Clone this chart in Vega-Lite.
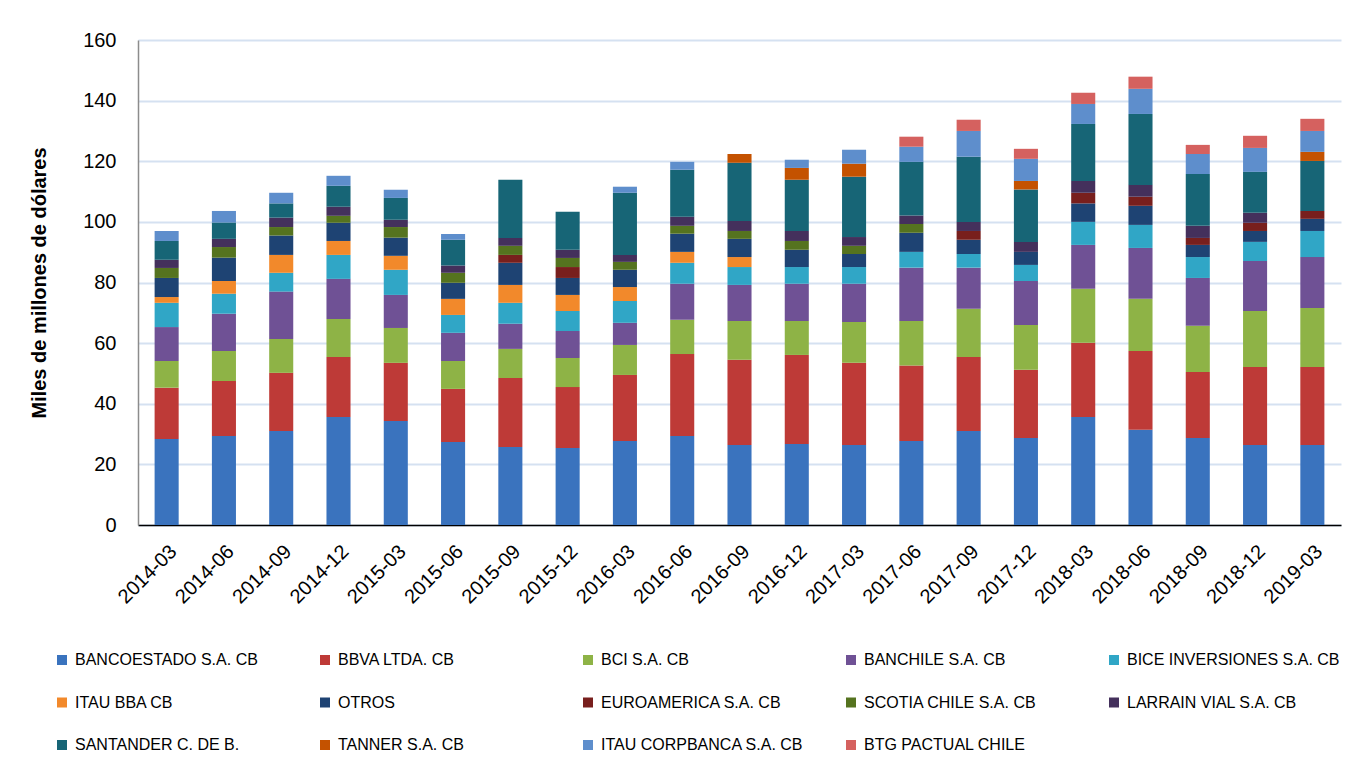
{
"$schema": "https://vega.github.io/schema/vega-lite/v6.json",
"width": 1203, "height": 485,
"autosize": {"type": "none"},
"padding": {"left": 138, "top": 40, "right": 17, "bottom": 235},
"background": "white",
"data": {"values": [
{"fecha":"2014-03","entidad":"BANCOESTADO S.A. CB","valor":28.4},{"fecha":"2014-03","entidad":"BBVA  LTDA. CB","valor":16.9},{"fecha":"2014-03","entidad":"BCI S.A. CB","valor":8.8},{"fecha":"2014-03","entidad":"BANCHILE S.A. CB","valor":11.2},{"fecha":"2014-03","entidad":"BICE INVERSIONES S.A. CB","valor":8.0},{"fecha":"2014-03","entidad":"ITAU BBA CB","valor":1.9},{"fecha":"2014-03","entidad":"OTROS","valor":6.3},{"fecha":"2014-03","entidad":"SCOTIA CHILE S.A. CB","valor":3.3},{"fecha":"2014-03","entidad":"LARRAIN VIAL S.A. CB","valor":2.7},{"fecha":"2014-03","entidad":"SANTANDER C. DE B.","valor":6.2},{"fecha":"2014-03","entidad":"ITAU CORPBANCA S.A. CB","valor":3.3},
{"fecha":"2014-06","entidad":"BANCOESTADO S.A. CB","valor":29.4},{"fecha":"2014-06","entidad":"BBVA  LTDA. CB","valor":18.1},{"fecha":"2014-06","entidad":"BCI S.A. CB","valor":9.9},{"fecha":"2014-06","entidad":"BANCHILE S.A. CB","valor":12.3},{"fecha":"2014-06","entidad":"BICE INVERSIONES S.A. CB","valor":6.6},{"fecha":"2014-06","entidad":"ITAU BBA CB","valor":4.2},{"fecha":"2014-06","entidad":"OTROS","valor":7.7},{"fecha":"2014-06","entidad":"SCOTIA CHILE S.A. CB","valor":3.5},{"fecha":"2014-06","entidad":"LARRAIN VIAL S.A. CB","valor":2.7},{"fecha":"2014-06","entidad":"SANTANDER C. DE B.","valor":5.4},{"fecha":"2014-06","entidad":"ITAU CORPBANCA S.A. CB","valor":3.8},
{"fecha":"2014-09","entidad":"BANCOESTADO S.A. CB","valor":31.0},{"fecha":"2014-09","entidad":"BBVA  LTDA. CB","valor":19.2},{"fecha":"2014-09","entidad":"BCI S.A. CB","valor":11.2},{"fecha":"2014-09","entidad":"BANCHILE S.A. CB","valor":15.6},{"fecha":"2014-09","entidad":"BICE INVERSIONES S.A. CB","valor":6.2},{"fecha":"2014-09","entidad":"ITAU BBA CB","valor":5.9},{"fecha":"2014-09","entidad":"OTROS","valor":6.4},{"fecha":"2014-09","entidad":"SCOTIA CHILE S.A. CB","valor":2.8},{"fecha":"2014-09","entidad":"LARRAIN VIAL S.A. CB","valor":3.1},{"fecha":"2014-09","entidad":"SANTANDER C. DE B.","valor":4.7},{"fecha":"2014-09","entidad":"ITAU CORPBANCA S.A. CB","valor":3.5},
{"fecha":"2014-12","entidad":"BANCOESTADO S.A. CB","valor":35.6},{"fecha":"2014-12","entidad":"BBVA  LTDA. CB","valor":19.8},{"fecha":"2014-12","entidad":"BCI S.A. CB","valor":12.6},{"fecha":"2014-12","entidad":"BANCHILE S.A. CB","valor":13.2},{"fecha":"2014-12","entidad":"BICE INVERSIONES S.A. CB","valor":7.9},{"fecha":"2014-12","entidad":"ITAU BBA CB","valor":4.6},{"fecha":"2014-12","entidad":"OTROS","valor":6.0},{"fecha":"2014-12","entidad":"SCOTIA CHILE S.A. CB","valor":2.3},{"fecha":"2014-12","entidad":"LARRAIN VIAL S.A. CB","valor":3.0},{"fecha":"2014-12","entidad":"SANTANDER C. DE B.","valor":6.9},{"fecha":"2014-12","entidad":"ITAU CORPBANCA S.A. CB","valor":3.3},
{"fecha":"2015-03","entidad":"BANCOESTADO S.A. CB","valor":34.3},{"fecha":"2015-03","entidad":"BBVA  LTDA. CB","valor":19.2},{"fecha":"2015-03","entidad":"BCI S.A. CB","valor":11.5},{"fecha":"2015-03","entidad":"BANCHILE S.A. CB","valor":10.9},{"fecha":"2015-03","entidad":"BICE INVERSIONES S.A. CB","valor":8.3},{"fecha":"2015-03","entidad":"ITAU BBA CB","valor":4.6},{"fecha":"2015-03","entidad":"OTROS","valor":6.0},{"fecha":"2015-03","entidad":"SCOTIA CHILE S.A. CB","valor":3.5},{"fecha":"2015-03","entidad":"LARRAIN VIAL S.A. CB","valor":2.4},{"fecha":"2015-03","entidad":"SANTANDER C. DE B.","valor":7.2},{"fecha":"2015-03","entidad":"ITAU CORPBANCA S.A. CB","valor":2.7},
{"fecha":"2015-06","entidad":"BANCOESTADO S.A. CB","valor":27.4},{"fecha":"2015-06","entidad":"BBVA  LTDA. CB","valor":17.5},{"fecha":"2015-06","entidad":"BCI S.A. CB","valor":9.2},{"fecha":"2015-06","entidad":"BANCHILE S.A. CB","valor":9.3},{"fecha":"2015-06","entidad":"BICE INVERSIONES S.A. CB","valor":5.9},{"fecha":"2015-06","entidad":"ITAU BBA CB","valor":5.3},{"fecha":"2015-06","entidad":"OTROS","valor":5.3},{"fecha":"2015-06","entidad":"SCOTIA CHILE S.A. CB","valor":3.3},{"fecha":"2015-06","entidad":"LARRAIN VIAL S.A. CB","valor":2.4},{"fecha":"2015-06","entidad":"SANTANDER C. DE B.","valor":8.5},{"fecha":"2015-06","entidad":"ITAU CORPBANCA S.A. CB","valor":1.9},
{"fecha":"2015-09","entidad":"BANCOESTADO S.A. CB","valor":25.7},{"fecha":"2015-09","entidad":"BBVA  LTDA. CB","valor":22.8},{"fecha":"2015-09","entidad":"BCI S.A. CB","valor":9.6},{"fecha":"2015-09","entidad":"BANCHILE S.A. CB","valor":8.3},{"fecha":"2015-09","entidad":"BICE INVERSIONES S.A. CB","valor":6.9},{"fecha":"2015-09","entidad":"ITAU BBA CB","valor":5.9},{"fecha":"2015-09","entidad":"OTROS","valor":7.3},{"fecha":"2015-09","entidad":"EUROAMERICA S.A. CB","valor":2.6},{"fecha":"2015-09","entidad":"SCOTIA CHILE S.A. CB","valor":3.0},{"fecha":"2015-09","entidad":"LARRAIN VIAL S.A. CB","valor":2.6},{"fecha":"2015-09","entidad":"SANTANDER C. DE B.","valor":19.2},
{"fecha":"2015-12","entidad":"BANCOESTADO S.A. CB","valor":25.4},{"fecha":"2015-12","entidad":"BBVA  LTDA. CB","valor":20.1},{"fecha":"2015-12","entidad":"BCI S.A. CB","valor":9.6},{"fecha":"2015-12","entidad":"BANCHILE S.A. CB","valor":8.9},{"fecha":"2015-12","entidad":"BICE INVERSIONES S.A. CB","valor":6.6},{"fecha":"2015-12","entidad":"ITAU BBA CB","valor":5.3},{"fecha":"2015-12","entidad":"OTROS","valor":5.6},{"fecha":"2015-12","entidad":"EUROAMERICA S.A. CB","valor":3.6},{"fecha":"2015-12","entidad":"SCOTIA CHILE S.A. CB","valor":3.0},{"fecha":"2015-12","entidad":"LARRAIN VIAL S.A. CB","valor":2.7},{"fecha":"2015-12","entidad":"SANTANDER C. DE B.","valor":12.5},
{"fecha":"2016-03","entidad":"BANCOESTADO S.A. CB","valor":27.7},{"fecha":"2016-03","entidad":"BBVA  LTDA. CB","valor":21.8},{"fecha":"2016-03","entidad":"BCI S.A. CB","valor":9.9},{"fecha":"2016-03","entidad":"BANCHILE S.A. CB","valor":7.3},{"fecha":"2016-03","entidad":"BICE INVERSIONES S.A. CB","valor":7.2},{"fecha":"2016-03","entidad":"ITAU BBA CB","valor":4.6},{"fecha":"2016-03","entidad":"OTROS","valor":5.7},{"fecha":"2016-03","entidad":"SCOTIA CHILE S.A. CB","valor":2.6},{"fecha":"2016-03","entidad":"LARRAIN VIAL S.A. CB","valor":2.3},{"fecha":"2016-03","entidad":"SANTANDER C. DE B.","valor":20.5},{"fecha":"2016-03","entidad":"ITAU CORPBANCA S.A. CB","valor":2.0},
{"fecha":"2016-06","entidad":"BANCOESTADO S.A. CB","valor":29.4},{"fecha":"2016-06","entidad":"BBVA  LTDA. CB","valor":27.0},{"fecha":"2016-06","entidad":"BCI S.A. CB","valor":11.3},{"fecha":"2016-06","entidad":"BANCHILE S.A. CB","valor":11.9},{"fecha":"2016-06","entidad":"BICE INVERSIONES S.A. CB","valor":6.9},{"fecha":"2016-06","entidad":"ITAU BBA CB","valor":3.6},{"fecha":"2016-06","entidad":"OTROS","valor":6.0},{"fecha":"2016-06","entidad":"SCOTIA CHILE S.A. CB","valor":2.6},{"fecha":"2016-06","entidad":"LARRAIN VIAL S.A. CB","valor":3.0},{"fecha":"2016-06","entidad":"SANTANDER C. DE B.","valor":15.5},{"fecha":"2016-06","entidad":"ITAU CORPBANCA S.A. CB","valor":2.6},
{"fecha":"2016-09","entidad":"BANCOESTADO S.A. CB","valor":26.4},{"fecha":"2016-09","entidad":"BBVA  LTDA. CB","valor":28.1},{"fecha":"2016-09","entidad":"BCI S.A. CB","valor":12.8},{"fecha":"2016-09","entidad":"BANCHILE S.A. CB","valor":11.9},{"fecha":"2016-09","entidad":"BICE INVERSIONES S.A. CB","valor":5.9},{"fecha":"2016-09","entidad":"ITAU BBA CB","valor":3.3},{"fecha":"2016-09","entidad":"OTROS","valor":6.0},{"fecha":"2016-09","entidad":"SCOTIA CHILE S.A. CB","valor":2.6},{"fecha":"2016-09","entidad":"LARRAIN VIAL S.A. CB","valor":3.3},{"fecha":"2016-09","entidad":"SANTANDER C. DE B.","valor":19.2},{"fecha":"2016-09","entidad":"TANNER S.A. CB","valor":2.9},
{"fecha":"2016-12","entidad":"BANCOESTADO S.A. CB","valor":26.7},{"fecha":"2016-12","entidad":"BBVA  LTDA. CB","valor":29.4},{"fecha":"2016-12","entidad":"BCI S.A. CB","valor":11.2},{"fecha":"2016-12","entidad":"BANCHILE S.A. CB","valor":12.3},{"fecha":"2016-12","entidad":"BICE INVERSIONES S.A. CB","valor":5.5},{"fecha":"2016-12","entidad":"OTROS","valor":5.7},{"fecha":"2016-12","entidad":"SCOTIA CHILE S.A. CB","valor":2.9},{"fecha":"2016-12","entidad":"LARRAIN VIAL S.A. CB","valor":3.3},{"fecha":"2016-12","entidad":"SANTANDER C. DE B.","valor":16.9},{"fecha":"2016-12","entidad":"TANNER S.A. CB","valor":3.9},{"fecha":"2016-12","entidad":"ITAU CORPBANCA S.A. CB","valor":2.7},
{"fecha":"2017-03","entidad":"BANCOESTADO S.A. CB","valor":26.4},{"fecha":"2017-03","entidad":"BBVA  LTDA. CB","valor":27.1},{"fecha":"2017-03","entidad":"BCI S.A. CB","valor":13.5},{"fecha":"2017-03","entidad":"BANCHILE S.A. CB","valor":12.6},{"fecha":"2017-03","entidad":"BICE INVERSIONES S.A. CB","valor":5.5},{"fecha":"2017-03","entidad":"OTROS","valor":4.3},{"fecha":"2017-03","entidad":"SCOTIA CHILE S.A. CB","valor":2.7},{"fecha":"2017-03","entidad":"LARRAIN VIAL S.A. CB","valor":2.9},{"fecha":"2017-03","entidad":"SANTANDER C. DE B.","valor":19.9},{"fecha":"2017-03","entidad":"TANNER S.A. CB","valor":4.3},{"fecha":"2017-03","entidad":"ITAU CORPBANCA S.A. CB","valor":4.6},
{"fecha":"2017-06","entidad":"BANCOESTADO S.A. CB","valor":27.7},{"fecha":"2017-06","entidad":"BBVA  LTDA. CB","valor":24.9},{"fecha":"2017-06","entidad":"BCI S.A. CB","valor":14.7},{"fecha":"2017-06","entidad":"BANCHILE S.A. CB","valor":17.6},{"fecha":"2017-06","entidad":"BICE INVERSIONES S.A. CB","valor":5.2},{"fecha":"2017-06","entidad":"OTROS","valor":6.3},{"fecha":"2017-06","entidad":"SCOTIA CHILE S.A. CB","valor":2.9},{"fecha":"2017-06","entidad":"LARRAIN VIAL S.A. CB","valor":2.8},{"fecha":"2017-06","entidad":"SANTANDER C. DE B.","valor":17.7},{"fecha":"2017-06","entidad":"ITAU CORPBANCA S.A. CB","valor":5.0},{"fecha":"2017-06","entidad":"BTG PACTUAL CHILE","valor":3.3},
{"fecha":"2017-09","entidad":"BANCOESTADO S.A. CB","valor":31.0},{"fecha":"2017-09","entidad":"BBVA  LTDA. CB","valor":24.4},{"fecha":"2017-09","entidad":"BCI S.A. CB","valor":15.9},{"fecha":"2017-09","entidad":"BANCHILE S.A. CB","valor":13.6},{"fecha":"2017-09","entidad":"BICE INVERSIONES S.A. CB","valor":4.5},{"fecha":"2017-09","entidad":"OTROS","valor":4.7},{"fecha":"2017-09","entidad":"EUROAMERICA S.A. CB","valor":2.9},{"fecha":"2017-09","entidad":"LARRAIN VIAL S.A. CB","valor":3.0},{"fecha":"2017-09","entidad":"SANTANDER C. DE B.","valor":21.5},{"fecha":"2017-09","entidad":"ITAU CORPBANCA S.A. CB","valor":8.5},{"fecha":"2017-09","entidad":"BTG PACTUAL CHILE","valor":3.7},
{"fecha":"2017-12","entidad":"BANCOESTADO S.A. CB","valor":28.7},{"fecha":"2017-12","entidad":"BBVA  LTDA. CB","valor":22.5},{"fecha":"2017-12","entidad":"BCI S.A. CB","valor":14.8},{"fecha":"2017-12","entidad":"BANCHILE S.A. CB","valor":14.5},{"fecha":"2017-12","entidad":"BICE INVERSIONES S.A. CB","valor":5.3},{"fecha":"2017-12","entidad":"OTROS","valor":4.3},{"fecha":"2017-12","entidad":"LARRAIN VIAL S.A. CB","valor":3.3},{"fecha":"2017-12","entidad":"SANTANDER C. DE B.","valor":17.3},{"fecha":"2017-12","entidad":"TANNER S.A. CB","valor":2.8},{"fecha":"2017-12","entidad":"ITAU CORPBANCA S.A. CB","valor":7.3},{"fecha":"2017-12","entidad":"BTG PACTUAL CHILE","valor":3.3},
{"fecha":"2018-03","entidad":"BANCOESTADO S.A. CB","valor":35.6},{"fecha":"2018-03","entidad":"BBVA  LTDA. CB","valor":24.5},{"fecha":"2018-03","entidad":"BCI S.A. CB","valor":17.8},{"fecha":"2018-03","entidad":"BANCHILE S.A. CB","valor":14.5},{"fecha":"2018-03","entidad":"BICE INVERSIONES S.A. CB","valor":7.6},{"fecha":"2018-03","entidad":"OTROS","valor":6.1},{"fecha":"2018-03","entidad":"EUROAMERICA S.A. CB","valor":3.5},{"fecha":"2018-03","entidad":"LARRAIN VIAL S.A. CB","valor":3.9},{"fecha":"2018-03","entidad":"SANTANDER C. DE B.","valor":18.8},{"fecha":"2018-03","entidad":"ITAU CORPBANCA S.A. CB","valor":6.6},{"fecha":"2018-03","entidad":"BTG PACTUAL CHILE","valor":3.7},
{"fecha":"2018-06","entidad":"BANCOESTADO S.A. CB","valor":31.4},{"fecha":"2018-06","entidad":"BBVA  LTDA. CB","valor":26.0},{"fecha":"2018-06","entidad":"BCI S.A. CB","valor":17.2},{"fecha":"2018-06","entidad":"BANCHILE S.A. CB","valor":16.8},{"fecha":"2018-06","entidad":"BICE INVERSIONES S.A. CB","valor":7.6},{"fecha":"2018-06","entidad":"OTROS","valor":6.3},{"fecha":"2018-06","entidad":"EUROAMERICA S.A. CB","valor":3.0},{"fecha":"2018-06","entidad":"LARRAIN VIAL S.A. CB","valor":3.9},{"fecha":"2018-06","entidad":"SANTANDER C. DE B.","valor":23.4},{"fecha":"2018-06","entidad":"ITAU CORPBANCA S.A. CB","valor":8.3},{"fecha":"2018-06","entidad":"BTG PACTUAL CHILE","valor":4.0},
{"fecha":"2018-09","entidad":"BANCOESTADO S.A. CB","valor":28.7},{"fecha":"2018-09","entidad":"BBVA  LTDA. CB","valor":21.8},{"fecha":"2018-09","entidad":"BCI S.A. CB","valor":15.2},{"fecha":"2018-09","entidad":"BANCHILE S.A. CB","valor":15.8},{"fecha":"2018-09","entidad":"BICE INVERSIONES S.A. CB","valor":6.9},{"fecha":"2018-09","entidad":"OTROS","valor":4.0},{"fecha":"2018-09","entidad":"EUROAMERICA S.A. CB","valor":2.3},{"fecha":"2018-09","entidad":"LARRAIN VIAL S.A. CB","valor":4.0},{"fecha":"2018-09","entidad":"SANTANDER C. DE B.","valor":17.1},{"fecha":"2018-09","entidad":"ITAU CORPBANCA S.A. CB","valor":6.6},{"fecha":"2018-09","entidad":"BTG PACTUAL CHILE","valor":3.0},
{"fecha":"2018-12","entidad":"BANCOESTADO S.A. CB","valor":26.4},{"fecha":"2018-12","entidad":"BBVA  LTDA. CB","valor":25.7},{"fecha":"2018-12","entidad":"BCI S.A. CB","valor":18.5},{"fecha":"2018-12","entidad":"BANCHILE S.A. CB","valor":16.5},{"fecha":"2018-12","entidad":"BICE INVERSIONES S.A. CB","valor":6.3},{"fecha":"2018-12","entidad":"OTROS","valor":3.6},{"fecha":"2018-12","entidad":"EUROAMERICA S.A. CB","valor":2.7},{"fecha":"2018-12","entidad":"LARRAIN VIAL S.A. CB","valor":3.3},{"fecha":"2018-12","entidad":"SANTANDER C. DE B.","valor":13.5},{"fecha":"2018-12","entidad":"ITAU CORPBANCA S.A. CB","valor":7.9},{"fecha":"2018-12","entidad":"BTG PACTUAL CHILE","valor":4.0},
{"fecha":"2019-03","entidad":"BANCOESTADO S.A. CB","valor":26.4},{"fecha":"2019-03","entidad":"BBVA  LTDA. CB","valor":25.7},{"fecha":"2019-03","entidad":"BCI S.A. CB","valor":19.5},{"fecha":"2019-03","entidad":"BANCHILE S.A. CB","valor":16.8},{"fecha":"2019-03","entidad":"BICE INVERSIONES S.A. CB","valor":8.6},{"fecha":"2019-03","entidad":"OTROS","valor":4.0},{"fecha":"2019-03","entidad":"EUROAMERICA S.A. CB","valor":2.6},{"fecha":"2019-03","entidad":"SANTANDER C. DE B.","valor":16.5},{"fecha":"2019-03","entidad":"TANNER S.A. CB","valor":3.0},{"fecha":"2019-03","entidad":"ITAU CORPBANCA S.A. CB","valor":6.9},{"fecha":"2019-03","entidad":"BTG PACTUAL CHILE","valor":4.0}
]},
"transform": [
  {"calculate": "indexof(['BANCOESTADO S.A. CB','BBVA  LTDA. CB','BCI S.A. CB','BANCHILE S.A. CB','BICE INVERSIONES S.A. CB','ITAU BBA CB','OTROS','EUROAMERICA S.A. CB','SCOTIA CHILE S.A. CB','LARRAIN VIAL S.A. CB','SANTANDER C. DE B.','TANNER S.A. CB','ITAU CORPBANCA S.A. CB','BTG PACTUAL CHILE'], datum.entidad)", "as": "orden"}
],
"mark": {"type": "bar"},
"encoding": {
  "x": {"field": "fecha", "type": "ordinal", "title": null,
        "scale": {"paddingInner": 0.58, "paddingOuter": 0.29},
        "axis": {"labelAngle": -45, "labelFontSize": 20, "labelFont": "Liberation Sans", "labelColor": "#000",
                 "domainColor": "#000", "domainWidth": 1.5, "ticks": false, "labelPadding": 16, "grid": false}},
  "y": {"field": "valor", "type": "quantitative", "stack": "zero",
        "scale": {"domain": [0, 160], "nice": false},
        "axis": {"values": [0, 20, 40, 60, 80, 100, 120, 140, 160], "title": "Miles de millones de dólares",
                 "titleFont": "Liberation Sans", "titleFontSize": 20, "titleFontWeight": "bold", "titleColor": "#000", "titlePadding": 33,
                 "labelFont": "Liberation Sans", "labelFontSize": 20, "labelColor": "#000", "labelPadding": 22,
                 "gridColor": "#D5E1F1", "gridWidth": 2, "domainColor": "#8C8C8C", "domainWidth": 1.5, "ticks": false}},
  "order": {"field": "orden", "type": "quantitative", "sort": "ascending"},
  "color": {"field": "entidad", "type": "nominal",
        "scale": {"domain": ["BANCOESTADO S.A. CB","BBVA  LTDA. CB","BCI S.A. CB","BANCHILE S.A. CB","BICE INVERSIONES S.A. CB","ITAU BBA CB","OTROS","EUROAMERICA S.A. CB","SCOTIA CHILE S.A. CB","LARRAIN VIAL S.A. CB","SANTANDER C. DE B.","TANNER S.A. CB","ITAU CORPBANCA S.A. CB","BTG PACTUAL CHILE"],
                  "range": ["#3A73BE","#BE3A37","#8EB346","#6F5195","#30A6C6","#F2892B","#1E4373","#781F1D","#55731F","#44305C","#176576","#C45200","#5E8ECC","#D5615F"]},
        "legend": {"title": null, "orient": "none", "legendX": -84, "legendY": 612, "direction": "horizontal", "columns": 5,
                   "gridAlign": "all", "columnPadding": 29, "rowPadding": 26.5, "symbolType": "square", "symbolSize": 100,
                   "symbolStrokeWidth": 0, "labelFont": "Liberation Sans", "labelFontSize": 16, "labelColor": "#000", "labelLimit": 300, "labelOffset": 5}}
},
"config": {"view": {"stroke": null}}
}
